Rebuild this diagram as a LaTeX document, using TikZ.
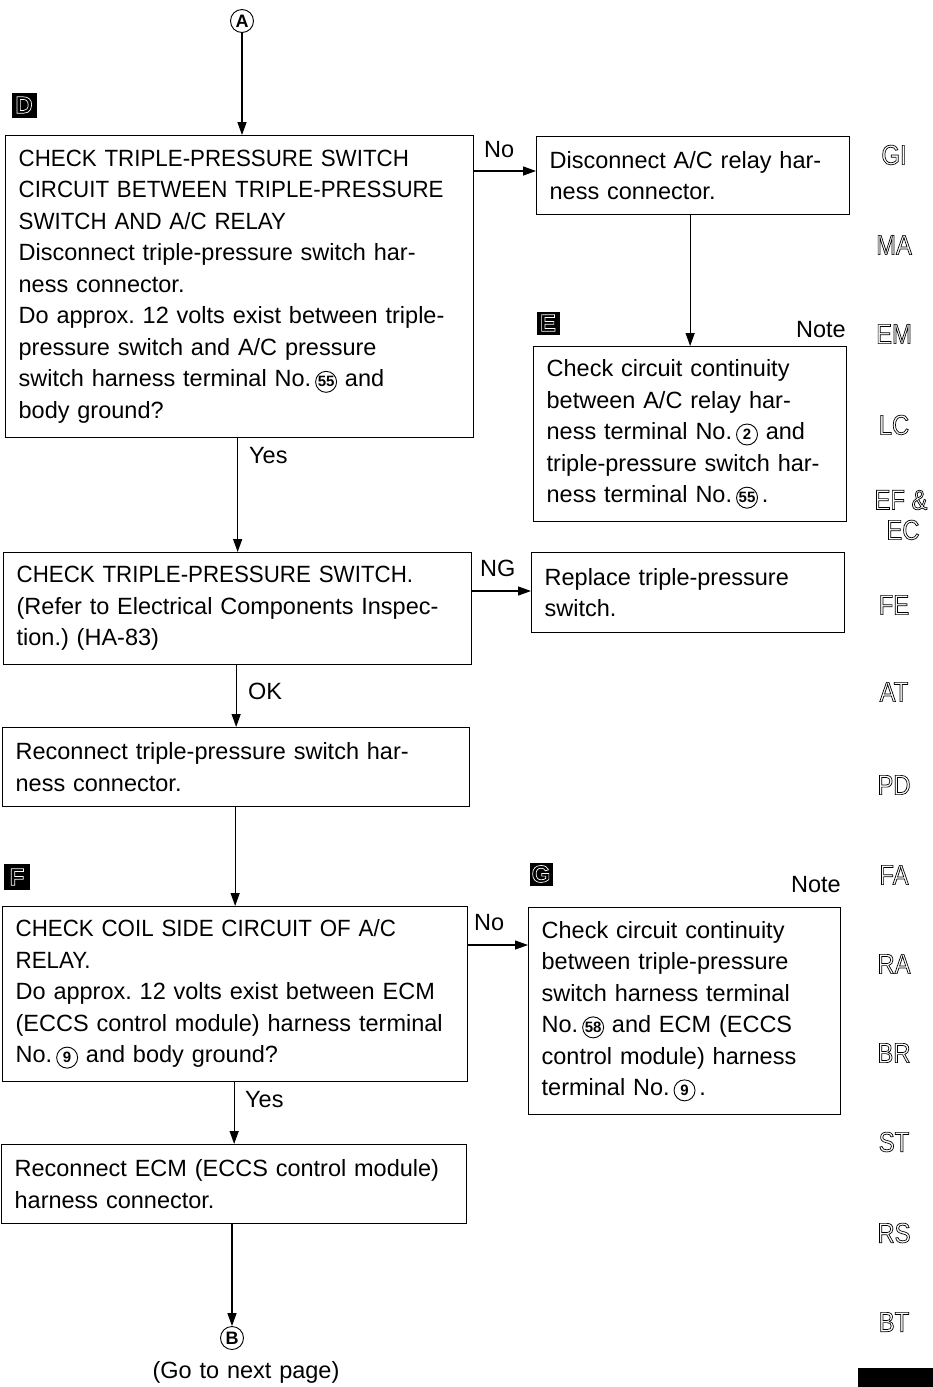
\documentclass[tikz,border=0pt]{standalone}
\usepackage{fontspec}
\setmainfont{Liberation Sans}[WordSpace=1.2]
\newfontfamily\capsfont{Liberation Sans}[FakeStretch=0.95, WordSpace=1.2]
\newfontfamily\codefont{Liberation Sans}[FakeStretch=0.85]
\usetikzlibrary{arrows.meta,positioning,calc}
\frenchspacing
\exhyphenpenalty=10000
\hyphenpenalty=10000

\newcommand{\boxfont}{\fontsize{23.5}{31.5}\selectfont}
\newcommand{\hd}[1]{{\capsfont #1}}
\newcommand{\outl}[1]{\special{pdf:literal direct 1 Tr 0.7 w}#1\special{pdf:literal direct 0 Tr}}
\newcommand{\cnum}[1]{\tikz[baseline=(cn.base)]{\node[cnode] (cn) {#1};
  \draw[line width=0.9pt] (cn.center) circle (10.5pt);}}

\tikzset{
stepbox/.style={draw, line width=1.3pt, anchor=north west, align=left,
  inner xsep=13pt, inner ysep=0pt, font=\boxfont},
cnode/.style={shape=rectangle, draw=none, inner sep=0pt, text width={}, align=center,
  anchor=center, fill=none, minimum width=22pt, minimum height=0pt,
  font=\fontsize{15}{15}\selectfont\bfseries},
flow/.style={line width=1.3pt, -{Triangle[length=13pt,width=9pt]}},
lbl/.style={anchor=base west, font=\boxfont, inner sep=0pt},
tag/.style={fill=black, text=white, minimum size=24pt, inner sep=0pt,
  font=\fontsize{24}{24}\selectfont\bfseries},
pagecirc/.style={circle, draw, line width=0.9pt, minimum size=23pt, inner sep=0pt,
  font=\fontsize{18}{18}\selectfont\bfseries},
sidecode/.style={font=\fontsize{28}{28}\codefont, inner sep=0pt}
}

\begin{document}
\begin{tikzpicture}[x=1pt,y=-1pt]
\useasboundingbox (0,0) rectangle (933,1387);

% boxes
\node[stepbox, minimum width=468pt, minimum height=302pt, text width=442pt] (chkD) at (5,135)
{\hd{CHECK TRIPLE-PRESSURE SWITCH}\\
\hd{CIRCUIT BETWEEN TRIPLE-PRESSURE}\\
\hd{SWITCH AND A/C RELAY}\\
Disconnect triple-pressure switch har-\\
ness connector.\\
Do approx. 12 volts exist between triple-\\
pressure switch and A/C pressure\\
switch harness terminal No.\,\cnum{55}\ and\\
body ground?};
\node[stepbox, minimum width=313pt, minimum height=78pt, text width=287pt] (disc) at (536,136)
{Disconnect A/C relay har-\\
ness connector.};
\node[stepbox, minimum width=313pt, minimum height=175pt, text width=287pt] (contE) at (533,346)
{Check circuit continuity\\
between A/C relay har-\\
ness terminal No.\,\cnum{2}\ and\\
triple-pressure switch har-\\
ness terminal No.\,\cnum{55}\,.};
\node[stepbox, minimum width=468pt, minimum height=112pt, text width=442pt] (chkSw) at (3,552)
{\hd{CHECK TRIPLE-PRESSURE SWITCH.}\\
(Refer to Electrical Components Inspec-\\
tion.) (HA-83)};
\node[stepbox, minimum width=313pt, minimum height=80pt, text width=287pt] (repl) at (531,552)
{Replace triple-pressure\\
switch.};
\node[stepbox, minimum width=467pt, minimum height=79pt, text width=441pt] (reconn) at (2,727)
{Reconnect triple-pressure switch har-\\
ness connector.};
\node[stepbox, minimum width=465pt, minimum height=175pt, text width=439pt] (coilF) at (2,906)
{\hd{CHECK COIL SIDE CIRCUIT OF A/C}\\
\hd{RELAY.}\\
Do approx. 12 volts exist between ECM\\
(ECCS control module) harness terminal\\
No.\,\cnum{9}\ and body ground?};
\node[stepbox, minimum width=312pt, minimum height=207pt, text width=286pt] (contG) at (528,907)
{Check circuit continuity\\
between triple-pressure\\
switch harness terminal\\
No.\,\cnum{58}\ and ECM (ECCS\\
control module) harness\\
terminal No.\,\cnum{9}\,.};
\node[stepbox, minimum width=465pt, minimum height=79pt, text width=439pt] (ecm) at (1,1144)
{Reconnect ECM (ECCS control module)\\
harness connector.};

% page connectors
\node[pagecirc] (cA) at (242,21) {A};
\node[pagecirc] (cB) at (232,1338) {B};
\node[font=\boxfont, inner sep=0pt] (nextpg) at (246,1372) {(Go to next page)};

% step tags
\node[tag, minimum size=25pt] (tD) at (24,105) {\outl{D}};
\node[tag, minimum size=23pt] (tE) at (548,323) {\outl{E}};
\node[tag, minimum size=26pt] (tF) at (17,877) {\outl{F}};
\node[tag, minimum size=23pt] (tG) at (541,874) {\outl{G}};
\node[lbl, anchor=base east] (noteE) at (846,337) {Note};
\node[lbl, anchor=base east] (noteG) at (841,892) {Note};

% arrows
\draw[flow] (cA.south) -- (cA.south |- chkD.north);
\draw[flow] (chkD.south -| chkSw.north) -- (chkSw.north);
\draw[flow] ([yshift=-36pt]chkD.north east) -- ([yshift=-36pt]chkD.north east -| disc.west);
\draw[flow] (disc.south -| contE.north) -- (contE.north);
\draw[flow] ([yshift=-39pt]chkSw.north east) -- ([yshift=-39pt]chkSw.north east -| repl.west);
\draw[flow] (chkSw.south -| reconn.north) -- (reconn.north);
\draw[flow] (reconn.south -| coilF.north) -- (coilF.north);
\draw[flow] ([yshift=-39pt]coilF.north east) -- ([yshift=-39pt]coilF.north east -| contG.west);
\draw[flow] (coilF.south -| ecm.north) -- (ecm.north);
\draw[flow] (ecm.south -| cB.north) -- (cB.north);

% answers
\node[lbl] (yesD) at (249,463) {Yes};
\node[lbl] (noD) at (484,157) {No};
\node[lbl] (ngSw) at (480,576) {NG};
\node[lbl] (okSw) at (248,699) {OK};
\node[lbl] (noF) at (474,930) {No};
\node[lbl] (yesF) at (245,1107) {Yes};

% section index
\foreach \c/\y in {GI/155,MA/245,EM/334,LC/425,FE/605,AT/692,PD/785,FA/875,RA/964,BR/1053,ST/1142,RS/1233,BT/1322}
  \node[sidecode] (code\c) at (894,\y) {\outl{\c}};
\node[sidecode] (codeEF) at (901,500) {\outl{EF \&}};
\node[sidecode] (codeEC) at (903,530) {\outl{EC}};
\fill (858,1368) rectangle (933,1387);
\end{tikzpicture}
\end{document}
